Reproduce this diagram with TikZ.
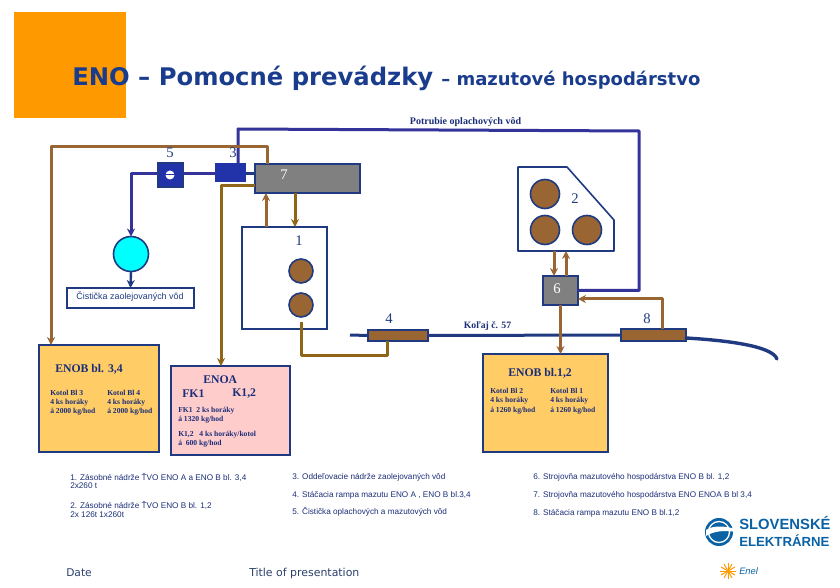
\documentclass[tikz,border=0pt]{standalone}
\usepackage{fontspec}
\setmainfont{Liberation Serif}
\newfontfamily\vf{DejaVu Sans}
\newfontfamily\af{Liberation Sans}
\usetikzlibrary{arrows.meta,calc}
\definecolor{navy}{HTML}{1F3A80}
\definecolor{title}{HTML}{1A3C8C}
\definecolor{pipe}{HTML}{333399}
\definecolor{blok}{HTML}{2233AA}
\definecolor{brn}{HTML}{996633}
\definecolor{dbrn}{HTML}{8F6518}
\definecolor{ttxt}{HTML}{1B2E78}
\definecolor{gry}{HTML}{808080}
\definecolor{oran}{HTML}{FF9900}
\definecolor{yel}{HTML}{FFCC66}
\definecolor{pnk}{HTML}{FFCCCC}
\definecolor{aqua}{HTML}{00FFFF}
\definecolor{logo}{HTML}{0A62A5}
\definecolor{foot}{HTML}{2A3F6A}
\newcommand{\fs}[1]{\fontsize{#1}{#1}\selectfont}
\tikzset{
 x=.75pt,y=-.75pt,
 sz/.style 2 args={minimum width=#1*.75pt,minimum height=#2*.75pt},
 box/.style={draw=navy,line width=1.6*.75pt,inner sep=0pt,outer sep=0pt},
 tank/.style={circle,draw=navy,fill=brn,line width=1.6*.75pt,inner sep=0pt,outer sep=0pt},
 pipeb/.style={draw=pipe,line width=3*.75pt},
 pipen/.style={draw=navy,line width=3*.75pt},
 oil/.style={draw=brn,line width=3*.75pt},
 oild/.style={draw=dbrn,line width=3*.75pt},
 tip/.style={-{Stealth[length=6pt,width=6pt]}},
 num/.style={inner sep=0pt,text=navy,font=\fs{11}},
 wnum/.style={inner sep=0pt,text=white,font=\fs{11}},
 sb/.style={inner sep=0pt,anchor=west,text=ttxt,font=\fs{5.7}\bfseries},
 hb/.style={inner sep=0pt,anchor=west,text=ttxt,font=\fs{8.8}\bfseries},
 leg/.style={inner sep=0pt,anchor=west,text=ttxt,font=\af\fs{6.15}},
}
\begin{document}
\begin{tikzpicture}
\useasboundingbox (0,0) rectangle (840,588);
% orange square
\fill[oran] (14,12) rectangle (126,118);
% title
\node[inner sep=0pt,anchor=base west,text=title,font=\vf\fs{18.2}\bfseries] (ttl) at (72,86) {ENO – Pomocné prevádzky};
\node[inner sep=0pt,anchor=base west,text=title,font=\vf\fs{13.5}\bfseries] (ttl2) at (441,86) {– mazutové hospodárstvo};
\node[inner sep=0pt,text=ttxt,font=\fs{7.5}\bfseries] (pot) at (465.5,122) {Potrubie oplachových vôd};
% boxes
\node[box,fill=gry,sz={105}{29}] (b7) at (307.5,178.5) {};
\node[box,draw=navy,fill=blok,sz={25}{24}] (b5) at (170.5,175) {};
\node[box,draw=blok,fill=blok,sz={30}{18}] (b3) at (230.5,172.5) {};
\node[box,sz={85}{102},fill=white] (b1) at (284.5,278) {};
\node[tank,minimum size=24*.75pt] (t1a) at (301,271) {};
\node[tank,minimum size=24*.75pt] (t1b) at (301,305) {};
\node[box,sz={127}{20},line width=2*.75pt] (cis) at (130.5,298) {};
\node[circle,draw=navy,fill=aqua,line width=1.6*.75pt,minimum size=35*.75pt,inner sep=0pt,outer sep=0pt] (cyl) at (131,254) {};
\node[box,fill=gry,sz={35}{29}] (b6) at (560.5,290.5) {};
\node[box,fill=brn,sz={60}{11}] (b4) at (398,335.5) {};
\node[box,fill=brn,sz={65}{12}] (b8) at (653.5,335) {};
\node[box,fill=yel,sz={120}{107}] (e34) at (99,398.5) {};
\node[box,fill=pnk,sz={119}{89}] (ea) at (230.5,410.5) {};
\node[box,fill=yel,sz={125}{98}] (e12) at (545.5,403) {};
% tank group 2
\coordinate (c2a) at (518,167); \coordinate (c2b) at (567,167); \coordinate (c2c) at (614,220);
\coordinate (c2d) at (614,251); \coordinate (c2e) at (518,251);
\draw[navy,line width=1.6*.75pt,line join=round] (c2a) -- (c2b) -- (c2c) -- (c2d) -- (c2e) -- cycle;
\node[tank,minimum size=29*.75pt] (t2a) at (545,194) {};
\node[tank,minimum size=29*.75pt] (t2b) at (545,230) {};
\node[tank,minimum size=29*.75pt] (t2c) at (587,230) {};
% water pipes
\coordinate (w1) at (238,129); \coordinate (w2) at (639,131);
\draw[pipeb,line join=round] (b3.north -| w1) -- (w1) -- (w2) -- (w2 |- b6.east) -- (b6.east);
\coordinate (y174) at (0,174);
\draw[pipeb] (b3.west |- y174) -- (b5.east |- y174);
\draw[pipen] (b3.east |- y174) -- (b7.west |- y174);
\coordinate (w3) at (131,174);
\draw[pipeb,line join=round,tip] (b5.west |- y174) -- (w3) -- (cyl.north);
\draw[pipen,line width=2.4*.75pt,tip] (cyl.south) -- (cis.north);
% rail
\coordinate (r1) at (350,335); \coordinate (r2) at (777,359);
\draw[pipen] (r1) -- (b4.west);
\draw[pipen] (b4.east) -- (b8.west);
\draw[pipen,line width=3.4*.75pt,line cap=round] ($(b8.east)+(0,3)$) .. controls (720,340) and (772,345) .. (r2);
% oil pipes
\coordinate (o1) at (51,147); \coordinate (o2) at (267,147);
\draw[oil,line join=round,tip] (b7.north -| o2) -- (o2) -- (o1) -- (o1 |- e34.north);
\coordinate (o3) at (221,186);
\draw[oild,line join=round,tip] (b7.west |- o3) -- (o3) -- (o3 |- ea.north);
\coordinate (x266) at (266,0); \coordinate (x295) at (295,0);
\draw[oil,tip] (b1.north -| x266) -- (b7.south -| x266);
\draw[oild,tip] (b7.south -| x295) -- (b1.north -| x295);
\coordinate (o4) at (301,356); \coordinate (o5) at (387,356); \coordinate (o0) at (301,322);
\draw[oild,line join=round] (o0) -- (o4) -- (o5) -- (b4.south -| o5);
\coordinate (x554) at (554,0); \coordinate (x566) at (566,0);
\draw[oil,tip] (c2e -| x554) -- (b6.north -| x554);
\draw[oil,tip] (b6.north -| x566) -- (c2e -| x566);
\draw[oil,tip] (b6.south) -- (e12.north -| b6.south);
\coordinate (o6) at (662,299);
\draw[oil,line join=round,tip] (b8.north -| o6) -- (o6) -- (b6.east |- o6);
% pump symbol
\node[circle,fill=white,minimum size=9*.75pt,inner sep=0pt] (pmp) at (170,175) {};
\draw[blok,line width=1*.75pt] (pmp.west) -- (pmp.east);
% numbers
\node[num] (n5) at (170,153) {5};
\node[num] (n3) at (233,153) {3};
\node[wnum] (n7) at (284,175) {7};
\node[num] (n1) at (299,241) {1};
\node[num] (n2) at (575,199) {2};
\node[num] (n4) at (389,319) {4};
\node[wnum] (n6) at (557,289) {6};
\node[num] (n8) at (647,319) {8};
\node[inner sep=0pt,text=ttxt,font=\fs{7.3}\bfseries] (kol) at (487.5,326) {Koľaj č. 57};
\node[inner sep=0pt,text=navy,font=\af\fs{6.7}] (cist) at (130,297) {Čistička zaolejovaných vôd};
% ENOB 3,4
\node[hb] (h34) at (55,369) {ENOB bl. 3,4};
\node[sb] (k3a) at (50,393) {Kotol Bl 3};
\node[sb] (k3b) at (50,403) {4 ks horáky};
\node[sb] (k3c) at (50,412) {á 2000 kg/hod};
\node[sb] (k4a) at (107,393) {Kotol Bl 4};
\node[sb] (k4b) at (107,403) {4 ks horáky};
\node[sb] (k4c) at (107,412) {á 2000 kg/hod};
% ENOA
\node[hb] (ha) at (203,380) {ENOA};
\node[hb] (hf) at (182,394) {FK1};
\node[hb] (hk) at (232,394) {K1,2};
\node[sb] (f1) at (178,411) {FK1\ \ 2 ks horáky};
\node[sb] (f2) at (178,420) {á 1320 kg/hod};
\node[sb] (f3) at (178,435) {K1,2\ \ \ 4 ks horáky/kotol};
\node[sb] (f4) at (178,444) {á\ \ 600 kg/hod};
% ENOB 1,2
\node[hb] (h12) at (508,373) {ENOB bl.1,2};
\node[sb] (k2a) at (490,391) {Kotol Bl 2};
\node[sb] (k2b) at (490,401) {4 ks horáky};
\node[sb] (k2c) at (490,411) {á 1260 kg/hod};
\node[sb] (k1a) at (550,391) {Kotol Bl 1};
\node[sb] (k1b) at (550,401) {4 ks horáky};
\node[sb] (k1c) at (550,411) {á 1260 kg/hod};
% legend
\node[leg] (l1) at (70,477) {1. Zásobné nádrže ŤVO ENO A a ENO B bl. 3,4};
\node[leg] (l1b) at (70,486) {2x260 t};
\node[leg] (l2) at (70,505) {2. Zásobné nádrže ŤVO ENO B bl. 1,2};
\node[leg] (l2b) at (70,515) {2x 126t 1x260t};
\node[leg] (l3) at (292,477) {3. Oddeľovacie nádrže zaolejovaných vôd};
\node[leg] (l4) at (292,495) {4. Stáčacia rampa mazutu ENO A , ENO B bl.3,4};
\node[leg] (l5) at (292,512) {5. Čistička oplachových a mazutových vôd};
\node[leg] (l6) at (533,477) {6. Strojovňa mazutového hospodárstva ENO B bl. 1,2};
\node[leg] (l7) at (533,495) {7. Strojovňa mazutového hospodárstva ENO ENOA B bl 3,4};
\node[leg] (l8) at (533,513) {8. Stáčacia rampa mazutu ENO B bl.1,2};
% footer
\node[inner sep=0pt,anchor=west,text=foot,font=\vf\fs{8}] (dt) at (66,573) {Date};
\node[inner sep=0pt,anchor=west,text=foot,font=\vf\fs{8.2}] (tp) at (249,573) {Title of presentation};
% logo
\fill[logo] (719,532) circle[radius=14];
\draw[white,line width=1.3*.75pt] (719,532) circle[radius=10.5];
\fill[white] (706,530) .. controls (714,525) and (724,526) .. (736,529) -- (736,532) .. controls (724,530) and (714,531) .. (706,536) -- cycle;
\node[inner sep=0pt,anchor=west,text=logo,font=\af\fs{11.1}\bfseries] (lg1) at (739,523) {SLOVENSKÉ};
\node[inner sep=0pt,anchor=west,text=logo,font=\af\fs{9.9}\bfseries] (lg2) at (739,541) {ELEKTRÁRNE};
\foreach \a in {0,30,...,330} \draw[oran,line width=1*.75pt] (728,571) -- ++(\a:8);
\node[inner sep=0pt,anchor=west,text=logo,font=\af\fs{7}\itshape] (en) at (739,571) {Enel};
\end{tikzpicture}
\end{document}
